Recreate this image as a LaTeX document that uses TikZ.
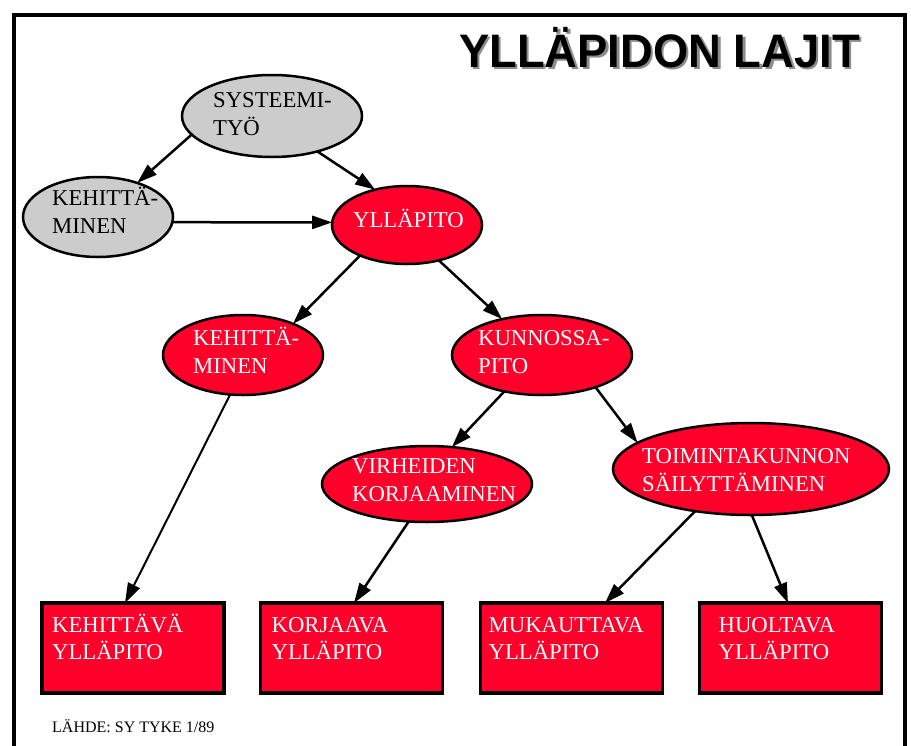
\documentclass[tikz,border=0pt]{standalone}
\usepackage{graphicx}
\usepackage{fontspec}
\setmainfont{Liberation Serif}
\newfontfamily\titlefont{Liberation Sans}
\usetikzlibrary{arrows.meta,shapes.geometric}
\definecolor{bred}{RGB}{255,0,43}
\definecolor{egray}{RGB}{204,204,204}
\begin{document}
\begin{tikzpicture}[x=1pt,y=1pt,
  ell/.style={ellipse, draw=black, line width=2.5pt, inner sep=0pt, outer sep=0pt},
  gell/.style={ell, fill=egray},
  rell/.style={ell, fill=bred},
  etxt/.style={anchor=north west, inner sep=0pt, align=left, font=\fontsize{22.7}{28}\selectfont},
  wtxt/.style={etxt, text=white},
  btxt/.style={wtxt, font=\fontsize{22.7}{27}\selectfont},
  ybox/.style={rectangle, draw=black, line width=3.5pt, fill=bred, minimum width=182pt, minimum height=90pt, inner sep=0pt, outer sep=0pt},
  arr/.style={line width=2.5pt, -{Triangle[length=20pt,width=13pt]}}]
\useasboundingbox (0,0) rectangle (911,-745);
\fill[white] (0,0) rectangle (911,-745);
% frame
\draw[line width=4pt] (14,-750) -- (14,-14.5) -- (905,-14.5) -- (905,-750);
% title
\node[anchor=base west, inner sep=0pt, text=black!45] (titleshadow) at (461.5,-69.5) {\titlefont\bfseries\fontsize{47}{47}\selectfont\scalebox{0.965}[1]{YLLÄPIDON LAJIT}};
\node[anchor=base west, inner sep=0pt] (title) at (459,-67) {\titlefont\bfseries\fontsize{47}{47}\selectfont\scalebox{0.965}[1]{YLLÄPIDON LAJIT}};
% ellipses
\node[gell, minimum width=180pt, minimum height=82pt] (sys) at (272,-116) {};
\node[gell, minimum width=150pt, minimum height=80pt] (gkeh) at (98,-217) {};
\node[rell, minimum width=150pt, minimum height=78pt] (yll) at (407,-225) {};
\node[rell, minimum width=160pt, minimum height=80pt] (rkeh) at (243,-355) {};
\node[rell, minimum width=180pt, minimum height=80pt] (kun) at (542,-355) {};
\node[rell, minimum width=210pt, minimum height=76pt] (vir) at (427,-484) {};
\node[rell, minimum width=276pt, minimum height=92pt] (toi) at (751,-469) {};
% ellipse texts
\node[etxt] (tsys) at (213,-85) {\rule{0pt}{22pt}SYSTEEMI-\\TYÖ};
\node[etxt] (tgkeh) at (52,-183) {\rule{0pt}{22pt}KEHITTÄ-\\MINEN};
\node[wtxt] (tyll) at (353,-205) {\rule{0pt}{22pt}YLLÄPITO};
\node[wtxt] (trkeh) at (193,-323) {\rule{0pt}{22pt}KEHITTÄ-\\MINEN};
\node[wtxt] (tkun) at (478,-323) {\rule{0pt}{22pt}KUNNOSSA-\\PITO};
\node[wtxt] (tvir) at (352,-451) {\rule{0pt}{22pt}VIRHEIDEN\\KORJAAMINEN};
\node[wtxt] (ttoi) at (642,-441) {\rule{0pt}{22pt}TOIMINTAKUNNON\\SÄILYTTÄMINEN};
% boxes
\node[ybox] (b1) at (133,-648) {};
\node[ybox] (b2) at (351.5,-648) {};
\node[ybox] (b3) at (571.5,-648) {};
\node[ybox] (b4) at (790.5,-648) {};
\node[btxt] (tb1) at ([xshift=10pt,yshift=-7pt]b1.north west) {\rule{0pt}{22pt}KEHITTÄVÄ\\YLLÄPITO};
\node[btxt] (tb2) at ([xshift=11pt,yshift=-7pt]b2.north west) {\rule{0pt}{22pt}KORJAAVA\\YLLÄPITO};
\node[btxt] (tb3) at ([xshift=8pt,yshift=-7pt]b3.north west) {\rule{0pt}{22pt}MUKAUTTAVA\\YLLÄPITO};
\node[btxt] (tb4) at ([xshift=19pt,yshift=-7pt]b4.north west) {\rule{0pt}{22pt}HUOLTAVA\\YLLÄPITO};
% source
\node[anchor=base west, inner sep=0pt] (src) at (52,-732) {\fontsize{16}{16}\selectfont LÄHDE: SY TYKE 1/89};
% arrows
\draw[arr] (sys.193) -- (gkeh.41);
\draw[arr] (sys.-38) -- (yll.132);
\draw[arr] (gkeh.-4) -- (yll.178);
\draw[arr] (yll.213) -- (rkeh.32);
\draw[arr] (yll.-48) -- (kun.138);
\draw[arr, line width=2pt] (rkeh.252) -- ([xshift=-8pt]b1.north);
\draw[arr] (kun.224) -- (vir.56);
\draw[arr] (kun.-31) -- (toi.167);
\draw[arr] (vir.244) -- ([xshift=2.5pt]b2.north);
\draw[arr] (toi.217) -- ([xshift=33.5pt]b3.north);
\draw[arr] (toi.271) -- ([xshift=-2.5pt]b4.north);
\end{tikzpicture}
\end{document}
